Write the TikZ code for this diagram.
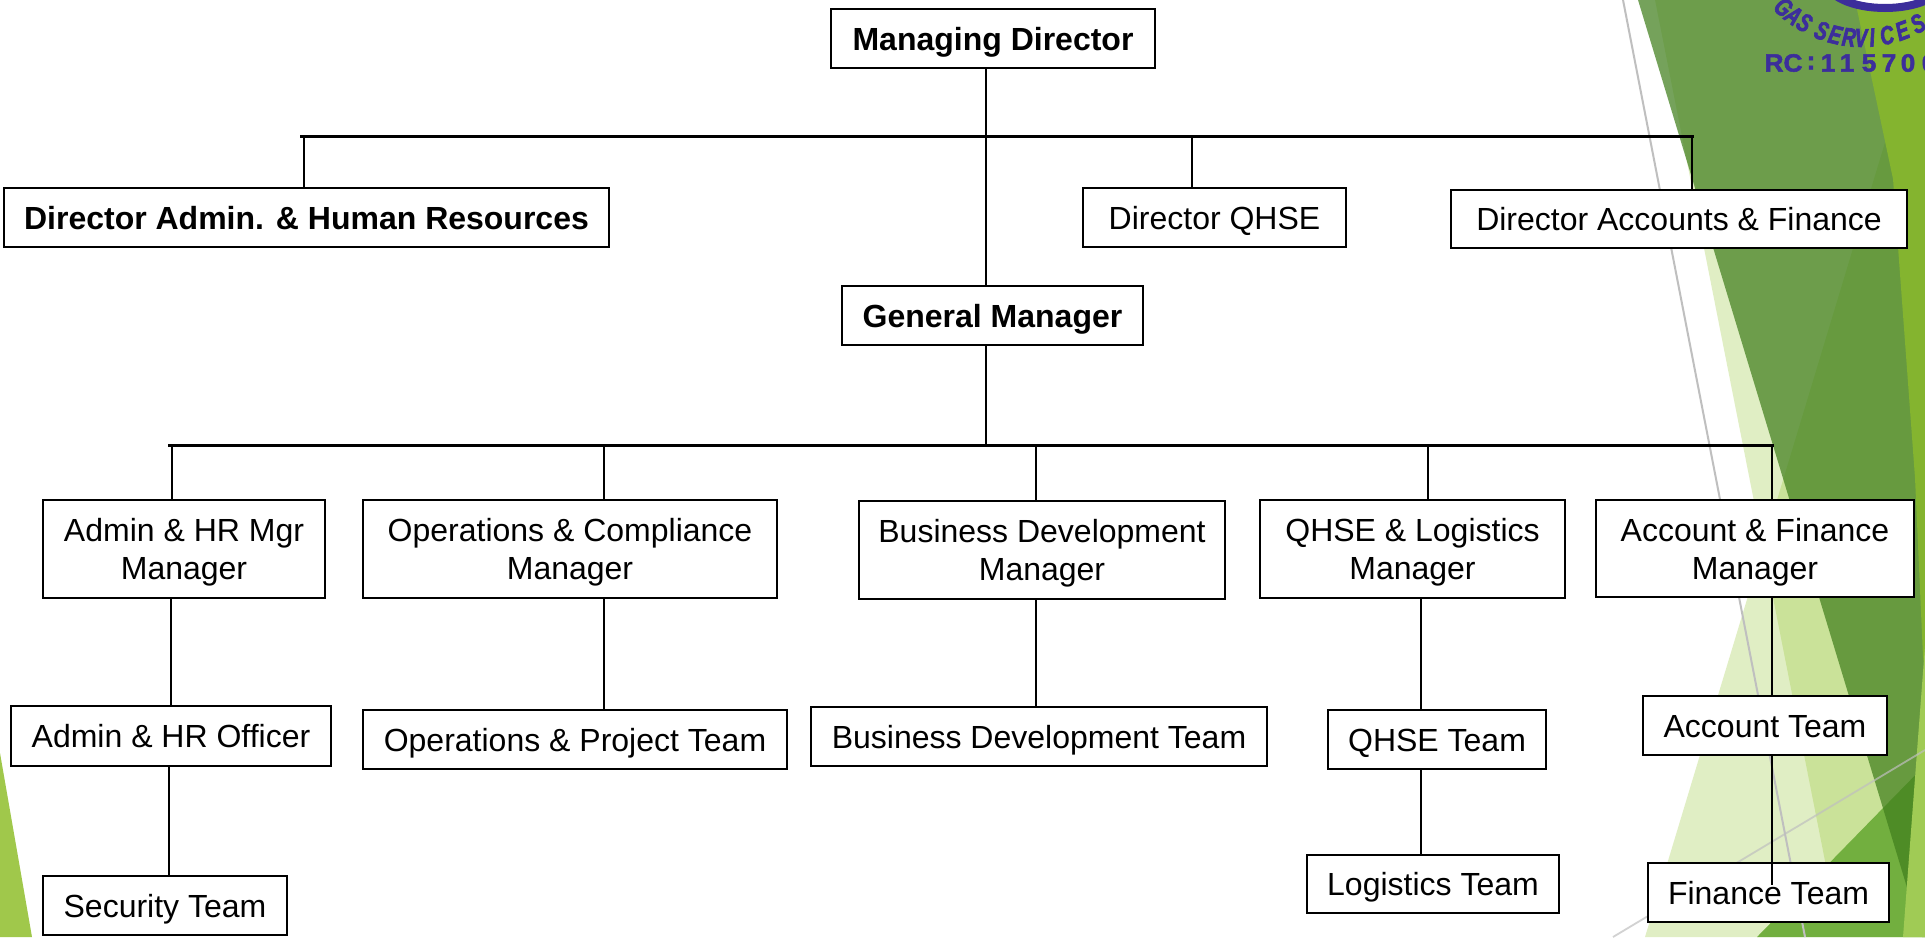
\documentclass[tikz,border=0pt]{standalone}
\usepackage{fontspec}
\setmainfont{Liberation Sans}
\newfontfamily\logofont[FakeStretch=0.72,FakeBold=2.5]{Liberation Sans}
\newfontfamily\rcfont[FakeBold=2,FakeStretch=1.05]{Liberation Sans}
\definecolor{logoblue}{HTML}{3C2E9B}
\definecolor{facet}{HTML}{90C226}
\definecolor{facetdark}{RGB}{65,127,29}
\definecolor{facetC}{HTML}{72AF3F}
\definecolor{facetB}{HTML}{84B42F}
\definecolor{facetBB}{HTML}{A0CB55}
\definecolor{facetL}{HTML}{A0C84B}
\definecolor{greyrule}{HTML}{BFBFBF}
\newcommand\orgbox[7][box,one]{\node[#1,minimum width={(#5-#3)*0.5pt},minimum height={(#6-#4)*0.5pt}] (#2) at ({(#3+#5)/2},{(#4+#6)/2}) {#7};}
\begin{document}
\begin{tikzpicture}[x=0.5pt,y=-0.5pt,
  box/.style={draw=black,fill=white,line width=1.2pt,inner sep=0pt,align=center,font=\fontsize{16}{19}\selectfont},
  one/.style={text height=11.5pt,text depth=0pt},
  bbox/.style={box,one,font=\fontsize{16}{19}\selectfont\bfseries},
  conn/.style={line width=1.1pt,draw=black},
  bus/.style={line width=1.5pt,draw=black},
  logoletter/.style={inner sep=0pt,text=logoblue,font=\logofont\fontsize{13}{15}\selectfont\bfseries\itshape},
  rcletter/.style={inner sep=0pt,text=logoblue,font=\rcfont\fontsize{12.5}{14}\selectfont\bfseries}]
\clip (0,0) rectangle (1925,937);
\fill[white] (0,0) rectangle (1925,937);
% background facets
\fill[facet,opacity=0.27] (1655,0) -- (1930,0) -- (1930,937) -- (1840,937) -- cycle;
\fill[facet,opacity=0.27] (1928,0) -- (1930,937) -- (1645,937) -- cycle;
\fill[facetC] (1757,937) -- (1930,760) -- (1930,937) -- cycle;
\fill[facetdark,opacity=0.72] (1638,0) -- (1930,0) -- (1930,937) -- (1922,937) -- cycle;
\fill[facetB] (1855,0) -- (1930,0) -- (1930,700) -- (1923,657) -- (1915,478) -- (1893,179) -- cycle;
\fill[facetBB] (1926,632) -- (1903,937) -- (1930,937) -- cycle;
\fill[facetL] (0,753) -- (32,937) -- (0,937) -- cycle;
\draw[greyrule,line width=1pt] (1623,0) -- (1805,937);
\draw[greyrule,line width=0.9pt,opacity=0.7] (1613,937) -- (1925,750);
% logo
\draw[logoblue,line width=4pt,fill=white] (1885,-18) ellipse [x radius=58,y radius=26];
\foreach \a/\l in {133/G,126.5/A,120/S,110.5/S,103.5/E,96.5/R,90.5/V,85/I,77.5/C,69.5/E,61/S}
  \node[logoletter,rotate={90-\a}] at ({1862+115*cos(\a)},{-77+115*sin(\a)}) {\l};
\foreach \x/\l in {1774/R,1793/C,1811/:,1828/1,1847/1,1869/5,1889/7,1908/0,1929/0}
  \node[rcletter] at (\x,63) {\l};
% boxes
\orgbox[bbox]{MD}{831}{9}{1155}{68}{Managing Director}
\orgbox[bbox]{DA}{4}{188}{609}{247}{Director Admin. \& Human Resources}
\orgbox{DQ}{1083}{188}{1346}{247}{Director QHSE}
\orgbox{DAF}{1451}{190}{1907}{248}{Director Accounts \& Finance}
\orgbox[bbox]{GM}{842}{286}{1143}{345}{General Manager}
\orgbox[box]{ARM}{43}{500}{325}{598}{Admin \& HR Mgr\\\smash{Manager}}
\orgbox[box]{OCM}{363}{500}{777}{598}{Operations \& Compliance\\\smash{Manager}}
\orgbox[box]{BDM}{859}{501}{1225}{599}{Business Development\\\smash{Manager}}
\orgbox[box]{QLM}{1260}{500}{1565}{598}{QHSE \& Logistics\\\smash{Manager}}
\orgbox[box]{AFM}{1596}{500}{1914}{597}{Account \& Finance\\\smash{Manager}}
\orgbox{AHO}{11}{706}{331}{766}{Admin \& HR Officer}
\orgbox{OPT}{363}{710}{787}{769}{Operations \& Project Team}
\orgbox{BDT}{811}{707}{1267}{766}{Business Development Team}
\orgbox{QT}{1328}{710}{1546}{769}{QHSE Team}
\orgbox{AT}{1643}{696}{1887}{755}{Account Team}
\orgbox{ST}{43}{876}{287}{935}{Security Team}
\orgbox{LT}{1307}{855}{1559}{913}{Logistics Team}
\orgbox{FT}{1648}{863}{1889}{922}{Finance Team}
% connector coordinates
\coordinate (busTL) at (300,136);
\coordinate (busTR) at (1694,136);
\coordinate (busBL) at (168,445);
\coordinate (busBR) at (1774,445);
\coordinate (vMD) at (986,0);
\coordinate (dDA) at (304,136);
\coordinate (dDQ) at (1192,136);
\coordinate (dDAF) at (1692,136);
\coordinate (d1) at (172,445);
\coordinate (d2) at (604,445);
\coordinate (d3) at (1036,445);
\coordinate (d4) at (1428,445);
\coordinate (d5) at (1772,445);
\coordinate (xA) at (171,0);
\coordinate (xS) at (169,0);
\coordinate (xO) at (604,0);
\coordinate (xB) at (1036,0);
\coordinate (xQ) at (1421,0);
\coordinate (xF) at (1772,0);
\coordinate (fEnd) at (1772,885);
% connectors
\draw[bus] (busTL) -- (busTR);
\draw[bus] (busBL) -- (busBR);
\draw[conn] (MD.south -| vMD) -- (GM.north -| vMD);
\draw[conn] (GM.south -| vMD) -- (vMD |- busBL);
\draw[conn] (dDA) -- (dDA |- DA.north);
\draw[conn] (dDQ) -- (dDQ |- DQ.north);
\draw[conn] (dDAF) -- (dDAF |- DAF.north);
\draw[conn] (d1) -- (d1 |- ARM.north);
\draw[conn] (d2) -- (d2 |- OCM.north);
\draw[conn] (d3) -- (d3 |- BDM.north);
\draw[conn] (d4) -- (d4 |- QLM.north);
\draw[conn] (d5) -- (d5 |- AFM.north);
\draw[conn] (ARM.south -| xA) -- (AHO.north -| xA);
\draw[conn] (AHO.south -| xS) -- (ST.north -| xS);
\draw[conn] (OCM.south -| xO) -- (OPT.north -| xO);
\draw[conn] (BDM.south -| xB) -- (BDT.north -| xB);
\draw[conn] (QLM.south -| xQ) -- (QT.north -| xQ);
\draw[conn] (QT.south -| xQ) -- (LT.north -| xQ);
\draw[conn] (AFM.south -| xF) -- (AT.north -| xF);
\draw[conn] (AT.south -| xF) -- (fEnd);
\end{tikzpicture}
\end{document}
